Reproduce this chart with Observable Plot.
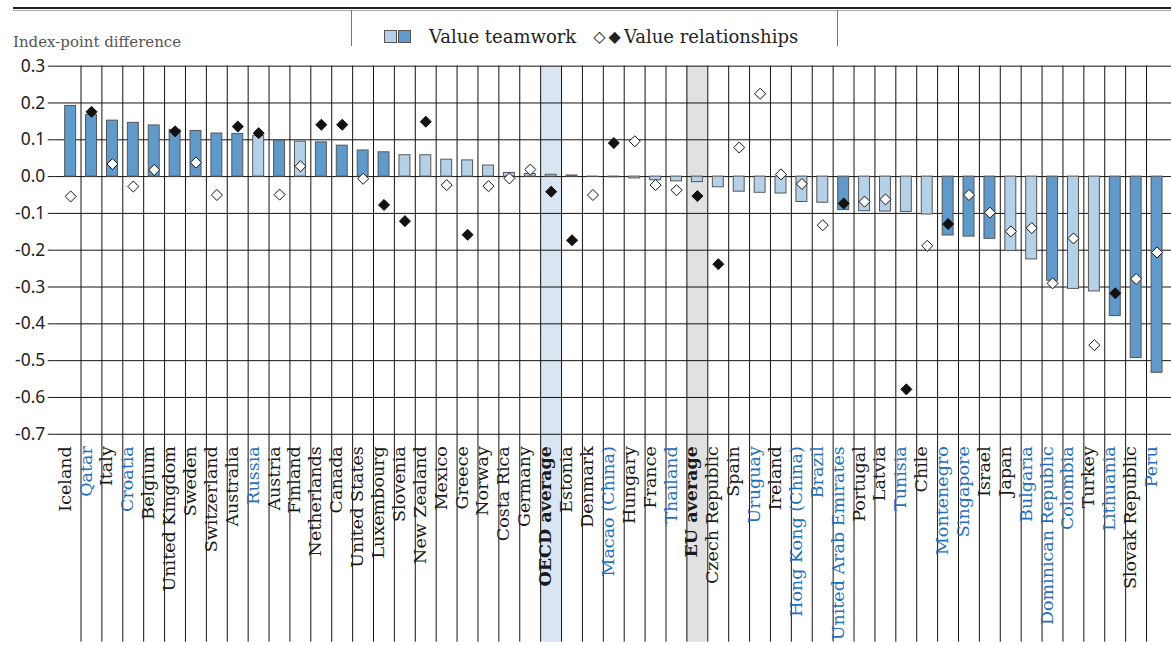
<!DOCTYPE html>
<html>
<head>
<meta charset="utf-8">
<script src="https://cdn.jsdelivr.net/npm/d3@7"></script>
<script src="https://cdn.jsdelivr.net/npm/@observablehq/plot@0.6"></script>
<style>
  html, body { margin: 0; padding: 0; background: #fff; overflow: hidden; }
  #wrap { position: relative; width: 1171px; height: 645px; overflow: hidden; }
  #chart { position: absolute; left: 0; top: 0; }
  .hdr { position: absolute; }
  .ytitle { position: absolute; left: 13px; top: 33px; font: 15px "DejaVu Serif"; color: #555; white-space: nowrap; }
  .legend { position: absolute; left: 384px; top: 25px; height: 22px; display: flex; align-items: center; font: 18px "DejaVu Serif"; color: #222; white-space: nowrap; }
  .sw { display: inline-block; width: 11px; height: 11px; border: 1px solid #555; }
  .dm { display: inline-block; font-size: 16px; }
</style>
</head>
<body>
<div id="wrap">
  <div class="hdr" style="left:13px; top:7px; width:1160px; height:2px; background:#222;"></div>
  <div class="hdr" style="left:13px; top:10px; width:1160px; height:1px; background:#aaa;"></div>
  <div class="hdr" style="left:351px; top:10px; width:1px; height:36px; background:#777;"></div>
  <div class="hdr" style="left:837px; top:10px; width:1px; height:36px; background:#777;"></div>
  <div class="ytitle">Index-point difference</div>
  <div class="legend">
    <span class="sw" style="background:#b5d1e8; margin-right:1px"></span><span class="sw" style="background:#5f9acb; margin-right:18px"></span>
    <span style="margin-right:17px">Value teamwork</span>
    <span class="dm" style="margin-right:3px">◇</span><span class="dm" style="margin-right:3px">◆</span>
    <span>Value relationships</span>
  </div>
  <div id="chart"></div>
</div>
<script>
const countries = ["Iceland","Qatar","Italy","Croatia","Belgium","United Kingdom","Sweden","Switzerland","Australia","Russia","Austria","Finland","Netherlands","Canada","United States","Luxembourg","Slovenia","New Zealand","Mexico","Greece","Norway","Costa Rica","Germany","OECD average","Estonia","Denmark","Macao (China)","Hungary","France","Thailand","EU average","Czech Republic","Spain","Uruguay","Ireland","Hong Kong (China)","Brazil","United Arab Emirates","Portugal","Latvia","Tunisia","Chile","Montenegro","Singapore","Israel","Japan","Bulgaria","Dominican Republic","Colombia","Turkey","Lithuania","Slovak Republic","Peru"];

const teamwork = [0.192,0.167,0.152,0.146,0.139,0.127,0.124,0.117,0.116,0.110,0.098,0.095,0.093,0.084,0.071,0.066,0.058,0.058,0.046,0.044,0.030,0.010,0.007,0.005,0.003,-0.001,-0.002,-0.005,-0.010,-0.013,-0.015,-0.029,-0.041,-0.044,-0.046,-0.069,-0.071,-0.091,-0.094,-0.095,-0.096,-0.103,-0.160,-0.163,-0.169,-0.202,-0.225,-0.283,-0.305,-0.312,-0.379,-0.493,-0.533];

// 1 = significant (dark bar)
const teamworkSig = [1,1,1,1,1,1,1,1,1,0,1,0,1,1,1,1,0,0,0,0,0,0,0,0,0,0,0,0,0,0,0,0,0,0,0,0,0,1,0,0,0,0,1,1,1,0,0,1,0,0,1,1,1];

const relationships = [-0.054,0.176,0.034,-0.027,0.018,0.123,0.038,-0.050,0.136,0.118,-0.049,0.028,0.141,0.141,-0.006,-0.077,-0.121,0.149,-0.023,-0.158,-0.026,-0.005,0.019,-0.041,-0.173,-0.050,0.091,0.096,-0.023,-0.037,-0.053,-0.238,0.079,0.225,0.006,-0.020,-0.132,-0.073,-0.068,-0.062,-0.578,-0.188,-0.129,-0.050,-0.098,-0.149,-0.140,-0.290,-0.168,-0.458,-0.317,-0.278,-0.206];

// 1 = significant (filled diamond)
const relationshipsSig = [0,1,0,0,0,1,0,0,1,1,0,0,1,1,0,1,1,1,0,1,0,0,0,1,1,0,1,0,0,0,1,1,0,0,0,0,0,1,0,0,1,0,1,0,0,0,0,0,0,0,1,0,0];

const partners = ["Qatar","Croatia","Russia","Macao (China)","Thailand","Uruguay","Hong Kong (China)","Brazil","United Arab Emirates","Tunisia","Montenegro","Singapore","Bulgaria","Dominican Republic","Colombia","Lithuania","Peru"];
const averages = ["OECD average","EU average"];
const yTicks = [0.3,0.2,0.1,0.0,-0.1,-0.2,-0.3,-0.4,-0.5,-0.6,-0.7];

const rows = countries.map((c, i) => ({
  country: c,
  teamwork: teamwork[i],
  tSig: teamworkSig[i] === 1,
  relationships: relationships[i],
  rSig: relationshipsSig[i] === 1
}));

const W = 1177, H = 645, mL = 55, mR = 0, mT = 66, mB = 209;
const bw = (W - mL - mR) / countries.length;

const chart = Plot.plot({
  width: W, height: H,
  marginTop: mT, marginBottom: mB, marginLeft: mL, marginRight: mR,
  style: {background: "transparent", fontFamily: "Noto Sans", overflow: "visible"},
  x: {domain: countries, padding: 0, axis: null},
  y: {domain: [-0.7, 0.3], axis: null},
  marks: [
    Plot.cell(averages, {x: d => d, fill: d => d === "OECD average" ? "#d9e6f2" : "#e1e1e1", insetBottom: -mB}),
    Plot.ruleX(countries.slice(1), {x: d => d, dx: -bw / 2, stroke: "#111", strokeWidth: 1, insetBottom: -mB}),
    Plot.gridY(yTicks, {stroke: "#111", strokeOpacity: 1, strokeWidth: 1}),
    Plot.axisY(yTicks, {tickSize: 7, tickPadding: 3, stroke: "#111", fontSize: 17.5, fill: "#222", tickFormat: d => d.toFixed(1)}),
    Plot.barY(rows, {x: "country", y: "teamwork", fill: d => d.tSig ? "#5f9acb" : "#b5d1e8", stroke: "#555", strokeWidth: 1, insetLeft: 5, insetRight: 5}),
    Plot.dot(rows, {x: "country", y: "relationships", symbol: "diamond2", r: 5, fill: d => d.rSig ? "#111" : "#fff", stroke: "#111", strokeWidth: 1}),
    Plot.text(rows.filter(d => !averages.includes(d.country)), {x: "country", text: "country", frameAnchor: "bottom", rotate: -90, textAnchor: "end", dy: 12, fontSize: 17.6, fontFamily: "DejaVu Serif", fill: d => partners.includes(d.country) ? "#1f6fbd" : "#1a1a1a"}),
    Plot.text(rows.filter(d => averages.includes(d.country)), {x: "country", text: "country", frameAnchor: "bottom", rotate: -90, textAnchor: "end", dy: 12, fontSize: 17.6, fontWeight: "bold", fontFamily: "DejaVu Serif", fill: "#1a1a1a"})
  ]
});
document.getElementById("chart").appendChild(chart);
</script>
</body>
</html>
